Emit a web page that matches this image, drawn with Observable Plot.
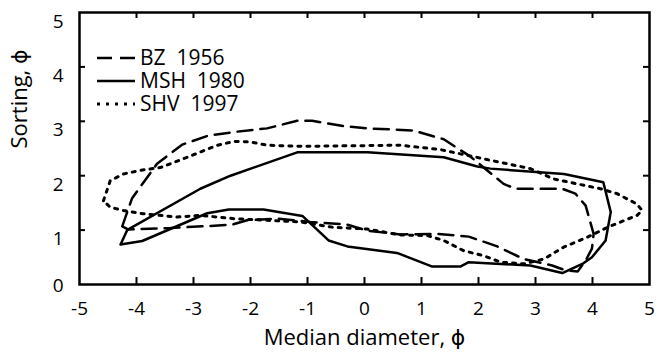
<!DOCTYPE html>
<html>
<head>
<meta charset="utf-8">
<script src="https://cdn.jsdelivr.net/npm/d3@7"></script>
<script src="https://cdn.jsdelivr.net/npm/@observablehq/plot@0.6"></script>
<style>
  html, body { margin: 0; padding: 0; background: #fff; }
  #chart { width: 659px; height: 353px; position: relative; }
</style>
</head>
<body>
<div id="chart"></div>
<script>
const xTicks = [-5, -4, -3, -2, -1, 0, 1, 2, 3, 4, 5];
const yTicks = [0, 1, 2, 3, 4, 5];
const xLabel = "Median diameter, ϕ";
const yLabel = "Sorting, ϕ";
const seriesNames = ["BZ  1956", "MSH  1980", "SHV  1997"];

// BZ 1956 (dashed) closed outline
const bzX = [-4.25, -4.08, -3.64, -3.20, -2.73, -2.23, -1.71, -1.18, -0.92, -0.36, 0.05, 0.51, 0.86, 1.39, 1.86, 2.44, 2.65, 3.47, 3.70, 3.88, 4.02, 3.99, 3.88, 3.74, 3.53, 3.29, 2.79, 2.33, 1.83, 1.30, 0.63, 0.05, -0.30, -0.95, -1.53, -2.06, -2.32, -2.82, -3.40, -4.14];
const bzY = [1.07, 1.58, 2.22, 2.57, 2.74, 2.81, 2.87, 3.01, 3.01, 2.91, 2.87, 2.85, 2.83, 2.67, 2.35, 1.85, 1.76, 1.76, 1.67, 1.45, 0.93, 0.66, 0.44, 0.24, 0.26, 0.35, 0.47, 0.70, 0.88, 0.93, 0.92, 0.99, 1.10, 1.15, 1.21, 1.18, 1.10, 1.07, 1.04, 1.01];

// MSH 1980 (solid) closed outline
const mshX = [-4.28, -4.16, -2.88, -2.35, -1.18, 0.05, 1.39, 1.98, 2.21, 3.50, 4.19, 4.32, 4.23, 3.99, 3.84, 3.47, 2.91, 1.83, 1.68, 1.19, 0.57, -0.30, -0.63, -1.09, -1.77, -2.38, -2.76, -3.90];
const mshY = [0.735, 1.005, 1.76, 2.00, 2.43, 2.43, 2.34, 2.17, 2.13, 2.03, 1.88, 1.33, 0.81, 0.50, 0.39, 0.21, 0.35, 0.41, 0.33, 0.33, 0.58, 0.70, 0.81, 1.26, 1.38, 1.38, 1.31, 0.80];

// SHV 1997 (dotted) closed outline
const shvX = [-4.58, -4.46, -4.23, -3.93, -3.58, -3.11, -2.58, -2.29, -2.00, -1.71, -1.12, 0.63, 1.33, 2.09, 2.91, 3.32, 4.14, 4.43, 4.78, 4.87, 4.78, 4.26, 3.91, 3.50, 3.15, 2.80, 2.39, 2.09, 1.74, 1.39, 1.10, 0.63, 0.05, -0.54, -1.12, -1.71, -2.29, -2.88, -3.29, -3.88, -4.23, -4.46];
const shvY = [1.54, 1.91, 2.03, 2.10, 2.15, 2.34, 2.56, 2.63, 2.62, 2.56, 2.54, 2.56, 2.48, 2.31, 2.13, 1.94, 1.76, 1.67, 1.48, 1.36, 1.27, 1.05, 0.87, 0.69, 0.47, 0.38, 0.41, 0.53, 0.62, 0.81, 0.90, 0.91, 1.02, 1.05, 1.15, 1.18, 1.21, 1.27, 1.24, 1.30, 1.36, 1.42];

function closed(xs, ys) {
  const pts = xs.map((x, i) => ({x, y: ys[i]}));
  pts.push(pts[0]);
  return pts;
}

const W = 659, H = 353, mL = 79, mR = 10, mT = 12, mB = 69;
const pw = W - mL - mR, ph = H - mT - mB;
const font = "'Open Sans', 'DejaVu Sans', sans-serif";
const fmt = d => String(d);

const plot = Plot.plot({
  width: W, height: H,
  marginLeft: mL, marginRight: mR, marginTop: mT, marginBottom: mB,
  x: {domain: [-5, 5]},
  y: {domain: [0, 5]},
  style: {fontFamily: font, fontSize: "19px", color: "#000", background: "#fff", overflow: "visible"},
  marks: [
    Plot.axisX(xTicks, {tickSize: 0, tickPadding: 17, tickFormat: fmt, label: null, fontSize: 19}),
    Plot.axisY(yTicks.filter(d => d > 0), {tickSize: 0, tickPadding: 16, dy: 9, tickFormat: fmt, label: null, fontSize: 19}),
    Plot.axisY([0], {tickSize: 0, tickPadding: 16, dy: 1, tickFormat: fmt, label: null, fontSize: 19}),
    Plot.tickX(xTicks.slice(1, -1), {x: d => d, insetTop: ph - 7, strokeWidth: 2}),
    Plot.tickX(xTicks.slice(1, -1), {x: d => d, insetBottom: ph - 6, strokeWidth: 2}),
    Plot.tickY(yTicks.slice(1, -1), {y: d => d, insetRight: pw - 6, strokeWidth: 2}),
    Plot.tickY(yTicks.slice(1, -1), {y: d => d, insetLeft: pw - 6, strokeWidth: 2}),
    Plot.frame({stroke: "#000", strokeWidth: 2.5}),
    Plot.line(closed(bzX, bzY), {x: "x", y: "y", stroke: "#000", strokeWidth: 2.5, strokeDasharray: "15,8", strokeLinejoin: "miter"}),
    Plot.line(closed(mshX, mshY), {x: "x", y: "y", stroke: "#000", strokeWidth: 2.5, strokeLinejoin: "miter"}),
    Plot.line(closed(shvX, shvY), {x: "x", y: "y", stroke: "#000", strokeWidth: 3, strokeDasharray: "3,6"}),
    Plot.text([xLabel], {frameAnchor: "bottom", dy: 53, lineAnchor: "middle", fontSize: 22, fill: "#000"}),
    Plot.text([yLabel], {frameAnchor: "left", dx: -60, rotate: -90, lineAnchor: "middle", fontSize: 22, fill: "#000"})
  ]
});

document.getElementById("chart").appendChild(plot);

// Legend inside the plot area, top-left
const svg = d3.select(plot);
const leg = svg.append("g")
  .attr("font-family", font)
  .attr("font-size", 21)
  .attr("text-anchor", "start");
const dashes = ["15,8", null, "3,6"];
const widths = [2.5, 2.5, 3];
const rowY = [58, 81, 104];
seriesNames.forEach((name, i) => {
  const ln = leg.append("line")
    .attr("x1", 97).attr("x2", 135)
    .attr("y1", rowY[i]).attr("y2", rowY[i])
    .attr("stroke", "#000").attr("stroke-width", widths[i]);
  if (dashes[i]) ln.attr("stroke-dasharray", dashes[i]);
  leg.append("text")
    .attr("x", 140).attr("y", rowY[i])
    .attr("dy", "0.35em")
    .attr("text-anchor", "start")
    .attr("fill", "#000")
    .style("white-space", "pre")
    .text(name);
});
</script>
</body>
</html>
